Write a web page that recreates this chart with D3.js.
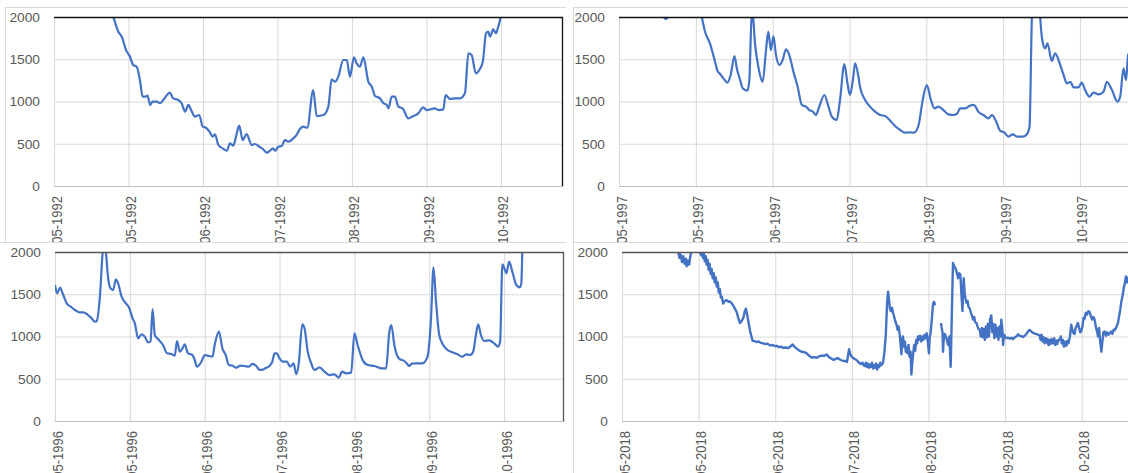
<!DOCTYPE html>
<html>
<head>
<meta charset="utf-8">
<script src="https://cdn.jsdelivr.net/npm/d3@7"></script>
<style>
  html, body { margin: 0; padding: 0; background: #fff; }
  svg { display: block; font-family: "Liberation Sans", Arial, sans-serif; }
</style>
</head>
<body>
<svg id="chart"></svg>
<script>
const width = 1128;
const height = 473;

// ticks every 30 days from the first day shown, labels as Excel prints them (mm-yyyy)
const tickDays = [0, 30, 60, 90, 120, 150, 180];
const labels1992 = ["05-1992", "05-1992", "06-1992", "07-1992", "08-1992", "09-1992", "10-1992"];
const labels1997 = ["05-1997", "05-1997", "06-1997", "07-1997", "08-1997", "09-1997", "10-1997"];
const labels1996 = ["05-1996", "05-1996", "06-1996", "07-1996", "08-1996", "09-1996", "10-1996"];
const labels2018 = ["05-2018", "05-2018", "06-2018", "07-2018", "08-2018", "09-2018", "10-2018"];
const yTicks = [0, 500, 1000, 1500, 2000];

// [day since first tick, value]
const series1992 = [
  [18, 2500], [22, 2150], [23.9, 2000], [25.9, 1826], [27.3, 1767], [29, 1609], [30.6, 1530],
  [31.9, 1432], [33.3, 1412], [34.6, 1254], [35.7, 1057], [36.9, 1057], [37.7, 1069], [38.7, 959],
  [39.7, 998], [41.4, 998], [42.7, 979], [44, 1018], [46.7, 1104], [48, 1037], [50, 1018],
  [51.4, 979], [52.8, 880], [54.1, 959], [55.5, 880], [56.8, 821], [58.5, 840], [59.9, 702],
  [61.2, 690], [62.6, 643], [63.9, 584], [64.8, 612], [66.2, 485], [67.9, 446], [69.6, 418],
  [70.9, 505], [72.2, 477], [73.3, 584], [74.6, 714], [76, 544], [77.6, 615], [79.6, 485],
  [80.9, 497], [82.7, 465], [84.3, 434], [85.7, 394], [87, 418], [88.1, 446], [89.1, 418],
  [90.3, 465], [91.7, 473], [93, 544], [94.4, 524], [96.4, 564], [97.7, 604], [98.8, 663],
  [100.4, 702], [102, 690], [104.4, 1136], [105.8, 828], [108.5, 840], [110.5, 939], [111.8, 1262],
  [113.2, 1234], [114.5, 1294], [116.5, 1491], [117.9, 1491], [119.2, 1294], [120.8, 1523],
  [121.9, 1451], [123.2, 1412], [124.6, 1523], [126.6, 1234], [128, 1175], [129.3, 1065],
  [131.3, 1037], [132.7, 979], [134, 959], [134.7, 919], [136, 1057], [137.3, 1057], [138.7, 939],
  [140.4, 919], [142.7, 801], [144.7, 828], [146.7, 860], [148.7, 931], [150.1, 899], [153.4, 919],
  [154.8, 899], [156.8, 907], [157.7, 1077], [159.5, 1030], [161.5, 1037], [163.5, 1037],
  [165.5, 1097], [166.9, 1570], [168.2, 1550], [169.9, 1333], [171.3, 1373], [172.7, 1471],
  [174, 1807], [174.9, 1826], [175.6, 1767], [176.9, 1854], [178, 1807], [178.9, 1885],
  [179.9, 2003], [181, 2300]
];

const series1997 = [
  [0, 2350], [8, 2200], [14, 2080], [17, 2010], [18.4, 1975], [19.6, 2020], [24, 2250], [29, 2200],
  [32.3, 2000], [33.6, 1826], [35.5, 1688], [37.5, 1471], [38.4, 1365], [39.5, 1325], [40.8, 1274],
  [42.3, 1223], [43.6, 1314], [45.1, 1538], [46, 1393], [47.3, 1254], [48.3, 1156], [50.1, 1128],
  [50.9, 1254], [51.6, 1900], [52.1, 2080], [53.1, 1688], [54.4, 1412], [56.1, 1234], [57.4, 1609],
  [58.3, 1826], [59.3, 1609], [60.3, 1775], [61.3, 1550], [62.6, 1432], [63.9, 1491], [65.2, 1618],
  [66.5, 1550], [68.1, 1353], [69.7, 1183], [71.4, 959], [73, 939], [74.3, 899], [75.7, 880],
  [76.9, 840], [78.2, 939], [80.2, 1077], [81.8, 939], [83.1, 821], [85, 781], [86.3, 1018],
  [88, 1444], [89.2, 1215], [90.2, 1077], [91.5, 1294], [92.2, 1451], [93.5, 1294], [94.1, 1175],
  [96.1, 1018], [98, 939], [100, 880], [102, 840], [103.9, 828], [105.9, 773], [107.8, 710],
  [109.8, 663], [111.7, 631], [113.7, 635], [115.2, 631], [116.9, 710], [118.6, 1018], [120.2, 1195],
  [121.8, 1018], [123.2, 919], [124.7, 939], [126.7, 899], [128.6, 848], [130.6, 840], [132.1, 860],
  [133.2, 919], [135.2, 919], [136.8, 947], [138.4, 959], [139.2, 940], [140.3, 880], [142.3, 840],
  [144.3, 801], [145.6, 840], [147.3, 761], [148.8, 655], [150.4, 635], [152.1, 584], [153.8, 612],
  [155.4, 584], [157.7, 584], [159.5, 623], [160.3, 702], [161.2, 1985], [161.6, 2300], [164, 2300],
  [164.5, 1985], [165.4, 1708], [166.4, 1629], [167.3, 1688], [169, 1479], [170.3, 1570],
  [172.3, 1432], [173.6, 1314], [174.9, 1215], [176.2, 1234], [177.5, 1168], [179.4, 1168],
  [180.7, 1223], [182, 1136], [183.7, 1057], [185.3, 1104], [187.2, 1085], [189.2, 1116],
  [190.5, 1234], [192.5, 1136], [194.6, 998], [195.7, 1057], [197, 1393], [198, 1254],
  [198.8, 1550], [200, 1600]
];

const series1996 = [
  [0, 1609], [0.9, 1511], [2, 1578], [3.3, 1491], [4.7, 1392], [6.3, 1353], [8, 1314], [9.7, 1286],
  [11.3, 1286], [12.9, 1262], [14.7, 1215], [16, 1175], [16.7, 1183], [18, 1471], [19.1, 1996],
  [19.7, 2120], [20.4, 2000], [21.3, 1689], [22.3, 1570], [23.3, 1550], [24.4, 1677], [25.3, 1629],
  [26.7, 1471], [28.4, 1392], [29.7, 1341], [31.1, 1215], [32, 1156], [33.3, 979], [34.7, 1026],
  [36, 998], [37.3, 931], [38.3, 939], [39.1, 1325], [40, 1018], [41.3, 970], [43.3, 899],
  [44.9, 801], [46.7, 793], [48, 773], [48.9, 947], [50, 820], [51.1, 860], [52, 907], [53.3, 801],
  [55.1, 781], [56, 722], [56.9, 643], [58.7, 702], [60, 781], [61.7, 769], [63.1, 761], [64, 899],
  [65.7, 1057], [67.1, 860], [68.4, 781], [69.7, 663], [71.1, 655], [72.7, 631], [74.3, 655],
  [76, 651], [77.7, 643], [79.1, 675], [80.7, 651], [82, 604], [83.3, 608], [84.7, 631], [86, 651],
  [87.1, 702], [88, 801], [88.9, 801], [90, 742], [91.3, 702], [92.9, 702], [94.3, 643], [95.6, 682],
  [96.7, 553], [97.7, 682], [99.1, 1144], [100, 1097], [101.3, 820], [102.7, 682], [104, 604],
  [106, 635], [108, 584], [110, 544], [112, 552], [113.7, 513], [115.1, 584], [116.7, 564],
  [118.7, 572], [120, 1038], [121.3, 899], [123.3, 722], [125.3, 663], [128, 651], [130.7, 623],
  [132.7, 623], [134, 1057], [134.8, 1136], [136, 899], [138, 734], [140, 710], [141, 680],
  [142, 651], [143, 680], [144.7, 682], [147.3, 682], [149.3, 761], [150.7, 1215], [151.7, 1819],
  [152.7, 1412], [154, 1018], [155.6, 899], [157.3, 840], [159.3, 813], [161.3, 789], [163.3, 761],
  [164.7, 789], [166.3, 781], [167.6, 820], [168.7, 1018], [169.6, 1144], [170.7, 1018], [172, 947],
  [174, 955], [176, 919], [177.6, 880], [178.4, 939], [179.3, 1854], [180.1, 1807], [180.9, 1747],
  [182, 1885], [183.3, 1767], [184.9, 1609], [186.3, 1582], [186.9, 1629], [187.3, 2003],
  [187.8, 2400]
];

// hourly record, noisy; null = missing stretch
const series2018 = [
  [15, 2200], [20, 2080], [22, 2000], [22.5, 1930], [23, 1970], [23.5, 1880], [24, 1950],
  [24.5, 1860], [25, 1920], [25.3, 1830], [25.8, 1900], [26.3, 1850], [26.8, 1960], [27.3, 2010],
  [28, 2150], [29.5, 2100], [30.5, 2000], [31, 1960], [31.3, 2010], [31.7, 1930], [32, 1990],
  [32.4, 1890], [32.8, 1950], [33.1, 1850], [33.5, 1910], [33.9, 1790], [34.3, 1860], [34.7, 1740],
  [35.1, 1800], [35.5, 1690], [35.9, 1750], [36.3, 1640], [36.7, 1700], [37.1, 1590], [37.5, 1640],
  [37.9, 1520], [38.3, 1560], [38.7, 1460], [39.1, 1470], [39.6, 1390], [40.2, 1420], [41, 1430],
  [41.7, 1410], [42.3, 1415], [43, 1390], [43.5, 1370], [44.2, 1330], [44.9, 1290], [45.5, 1220],
  [46.2, 1160], [46.8, 1180], [47.5, 1220], [48, 1290], [48.5, 1330], [49, 1260], [49.4, 1190],
  [50.2, 1060], [51.1, 950], [52, 945], [52.7, 935], [53.5, 940], [54.3, 925], [55.3, 920],
  [56, 910], [57, 915], [57.9, 895], [59, 900], [60, 885], [60.5, 890], [61.5, 875], [62.3, 880],
  [63.1, 865], [64, 870], [65.1, 862], [66, 885], [66.8, 905], [67.5, 880], [68.3, 860], [69.3, 835],
  [70.3, 820], [71.3, 815], [72.3, 800], [73.2, 775], [74.2, 752], [75.2, 755], [76.2, 748],
  [77.2, 765], [78.1, 775], [79.1, 770], [80.1, 788], [80.8, 765], [81.4, 748], [82.2, 735],
  [82.9, 722], [83.8, 738], [84.6, 742], [85.5, 725], [86.6, 710], [87.4, 712], [88.1, 700],
  [88.6, 790], [88.9, 850], [89.3, 800], [89.9, 762], [90.8, 740], [91.8, 722], [92.8, 690],
  [93.5, 675], [94.2, 690], [94.6, 660], [95.1, 650], [95.5, 690], [95.9, 640], [96.3, 680],
  [96.7, 630], [97.1, 670], [97.5, 640], [97.9, 690], [98.3, 620], [98.7, 660], [99.1, 630],
  [99.5, 680], [99.9, 610], [100.3, 660], [100.7, 640], [101.1, 690], [101.5, 660], [102.2, 690],
  [102.7, 800], [103.3, 1020], [103.8, 1400], [104.2, 1530], [104.6, 1420], [104.9, 1330],
  [105.3, 1300], [105.7, 1340], [106.2, 1270], [106.6, 1230], [107, 1180], [107.5, 1140],
  [107.9, 1080], [108.3, 1120], [108.8, 1010], [109.1, 900], [109.4, 790], [109.7, 950], [110, 1000],
  [110.4, 880], [110.8, 940], [111.1, 820], [111.4, 870], [111.8, 800], [112.2, 900], [112.6, 760],
  [113, 820], [113.3, 550], [113.7, 700], [114, 790], [114.4, 900], [114.8, 830], [115.2, 960],
  [115.6, 920], [115.9, 1000], [116.3, 960], [116.7, 1010], [117.2, 940], [117.6, 1000], [118, 960],
  [118.5, 1020], [118.9, 980], [119.3, 1040], [119.7, 950], [120.2, 800], [120.5, 1000],
  [120.8, 1030], [121.3, 1200], [121.8, 1390], [122.2, 1410], [122.6, 1370], [123.5, null],
  [124.9, 1160], [125.2, 1100], [125.5, 1050], [125.7, 820], [126, 980], [126.4, 1030], [126.8, 1000],
  [127.2, 960], [127.7, 900], [128.2, 1000], [128.7, 640], [129.1, 1200], [129.6, 1870],
  [130.1, 1830], [130.7, 1800], [131.2, 1740], [131.6, 1690], [132, 1750], [132.5, 1730],
  [132.9, 1500], [133.3, 1300], [133.6, 1550], [133.8, 1690], [134.2, 1500], [134.5, 1450],
  [134.9, 1400], [135.3, 1420], [135.7, 1350], [136.2, 1330], [136.6, 1280], [137, 1250],
  [137.5, 1200], [137.9, 1230], [138.3, 1170], [138.8, 1160], [139.2, 1120], [139.6, 1090],
  [140.1, 1080], [140.5, 1000], [140.9, 1100], [141.3, 990], [141.7, 1090], [142.1, 960],
  [142.5, 1120], [142.9, 990], [143.3, 1150], [143.7, 1000], [144.1, 1200], [144.6, 1250],
  [145, 1050], [145.4, 1150], [145.8, 980], [146.2, 1140], [146.6, 1000], [147, 1100], [147.4, 960],
  [147.8, 1120], [148.2, 1000], [148.5, 1200], [148.9, 1100], [149.2, 900], [149.6, 1020],
  [150.1, 990], [150.5, 980], [151.2, 985], [152, 975], [152.5, 985], [153.1, 970], [153.8, 990],
  [154.4, 1000], [155.1, 1025], [155.6, 1010], [156.2, 1005], [157, 995], [157.7, 1010],
  [158.4, 1030], [159, 1060], [159.6, 1078], [160.2, 1060], [160.8, 1045], [161.6, 1035],
  [162.3, 1030], [163, 1020], [163.5, 1015], [163.9, 960], [164.3, 1020], [164.7, 940], [165.1, 990],
  [165.5, 920], [165.9, 980], [166.2, 930], [166.6, 970], [167, 900], [167.4, 960], [167.8, 910],
  [168.2, 970], [168.8, 920], [169.2, 980], [169.6, 900], [170, 950], [170.4, 910], [170.8, 960],
  [171.4, 959], [171.8, 1000], [172.2, 920], [172.6, 960], [173, 880], [173.4, 940], [174, 890],
  [174.4, 950], [174.8, 920], [175.4, 1000], [175.9, 1140], [176.3, 1080], [176.8, 1040],
  [177.2, 1030], [177.6, 1100], [178, 1120], [178.5, 1160], [179, 1100], [179.4, 1050],
  [179.8, 1060], [180.3, 1120], [180.7, 1220], [181.1, 1210], [181.6, 1280], [182.1, 1260],
  [182.6, 1300], [183.1, 1290], [183.6, 1240], [184.1, 1200], [184.6, 1230], [185.1, 1195],
  [185.5, 1120], [186, 1060], [186.4, 1000], [186.8, 1100], [187.2, 950], [187.7, 820], [188.1, 940],
  [188.5, 1050], [189, 1060], [189.5, 1010], [190, 1050], [190.5, 1020], [191, 1040], [191.5, 1060],
  [192, 1030], [192.5, 1080], [192.9, 1077], [193.4, 1100], [193.8, 1130], [194.2, 1160],
  [194.7, 1250], [195.1, 1320], [195.5, 1410], [196, 1480], [196.5, 1580], [196.9, 1630],
  [197.3, 1710], [197.8, 1640], [198.3, 1700], [198.8, 1660], [199.5, 1720]
];

const svg = d3.select("#chart").attr("width", width).attr("height", height);

const stretch = 1.1; // the screenshot is slightly wider than tall
const textColor = "#595959";
const gridColor = "#d9d9d9";
const lineColor = "#4472c4";

const drawPanel = (p, id) => {
  const g = svg.append("g");
  const x = d3.scaleLinear().domain([0, p.span]).range([p.left, p.left + p.width]);
  const y = d3.scaleLinear().domain([0, 2000]).range([p.bottom, p.top]);

  const xAxis = g
    .append("g")
    .attr("transform", `translate(0, ${p.bottom})`)
    .call(
      d3.axisBottom(x)
        .tickValues(tickDays)
        .tickFormat((d, i) => p.labels[i])
        .tickSize(-(p.bottom - p.top))
        .tickSizeOuter(0)
    );
  xAxis.select(".domain").attr("stroke", "#bfbfbf");
  xAxis.selectAll(".tick line").attr("stroke", gridColor);
  xAxis
    .selectAll(".tick text")
    .attr("x", 0)
    .attr("y", 0)
    .attr("dy", "0.35em")
    .attr("text-anchor", "end")
    .attr("transform", `translate(2, 10) scale(${stretch}, 1) rotate(-90)`)
    .attr("font-size", "13px")
    .attr("font-family", "Liberation Sans, Arial, sans-serif")
    .attr("fill", textColor);

  const yAxis = g
    .append("g")
    .attr("transform", `translate(${p.left}, 0)`)
    .call(
      d3.axisLeft(y)
        .tickValues(yTicks)
        .tickFormat(d3.format("d"))
        .tickSize(-p.width)
        .tickSizeOuter(0)
    );
  yAxis.select(".domain").attr("stroke", gridColor);
  yAxis.selectAll(".tick line").attr("stroke", (d) => (d === 0 ? "#bfbfbf" : gridColor));
  yAxis
    .selectAll(".tick text")
    .attr("x", 0)
    .attr("dy", "0.35em")
    .attr("transform", `translate(-14, 0) scale(${stretch}, 1)`)
    .attr("font-size", "12.5px")
    .attr("font-family", "Liberation Sans, Arial, sans-serif")
    .attr("fill", textColor);

  svg
    .append("clipPath")
    .attr("id", "clip" + id)
    .append("rect")
    .attr("x", p.left)
    .attr("y", p.top)
    .attr("width", p.width)
    .attr("height", p.bottom - p.top);

  const line = d3
    .line()
    .defined((d) => d[1] != null)
    .x((d) => x(d[0]))
    .y((d) => y(d[1]))
    .curve(p.smooth ? d3.curveMonotoneX : d3.curveLinear);

  g.append("path")
    .datum(p.data)
    .attr("clip-path", `url(#clip${id})`)
    .attr("fill", "none")
    .attr("stroke", lineColor)
    .attr("stroke-width", p.smooth ? 2.2 : 2.4)
    .attr("stroke-linejoin", "round")
    .attr("d", line);

  // plot area border: top and right edges
  g.append("line")
    .attr("x1", p.left)
    .attr("x2", p.left + p.width)
    .attr("y1", p.top + 0.5)
    .attr("y2", p.top + 0.5)
    .attr("stroke", p.border)
    .attr("stroke-width", 1.3);
  g.append("line")
    .attr("x1", p.left + p.width - 0.5)
    .attr("x2", p.left + p.width - 0.5)
    .attr("y1", p.top)
    .attr("y2", p.bottom)
    .attr("stroke", p.border)
    .attr("stroke-width", 1.3);
};

// top row
drawPanel({ data: series1992, labels: labels1992, left: 54, top: 17, bottom: 186, width: 509, span: 205, border: "#111", smooth: true }, 1);
drawPanel({ data: series1997, labels: labels1997, left: 619, top: 17, bottom: 186, width: 525, span: 205, border: "#111", smooth: true }, 2);

// chart frames of the top row
svg.append("line").attr("x1", 5).attr("x2", width).attr("y1", 7.5).attr("y2", 7.5).attr("stroke", gridColor);
svg.append("line").attr("x1", 5.5).attr("x2", 5.5).attr("y1", 7).attr("y2", 242).attr("stroke", gridColor);

// bottom row sits over the cut-off labels of the top row
svg.append("rect").attr("x", 0).attr("y", 242).attr("width", width).attr("height", height - 242).attr("fill", "#fff");
svg.append("line").attr("x1", 0).attr("x2", width).attr("y1", 242.5).attr("y2", 242.5).attr("stroke", gridColor);

drawPanel({ data: series1996, labels: labels1996, left: 55, top: 252, bottom: 421, width: 509, span: 204, border: "#555", smooth: true }, 3);
drawPanel({ data: series2018, labels: labels2018, left: 622, top: 252, bottom: 421, width: 521, span: 204, border: "#555", smooth: false }, 4);

// separator between left and right charts
svg.append("rect").attr("x", 566).attr("y", 0).attr("width", 7).attr("height", height).attr("fill", "#fff");
svg.append("line").attr("x1", 573.5).attr("x2", 573.5).attr("y1", 7).attr("y2", height).attr("stroke", gridColor);
</script>
</body>
</html>
